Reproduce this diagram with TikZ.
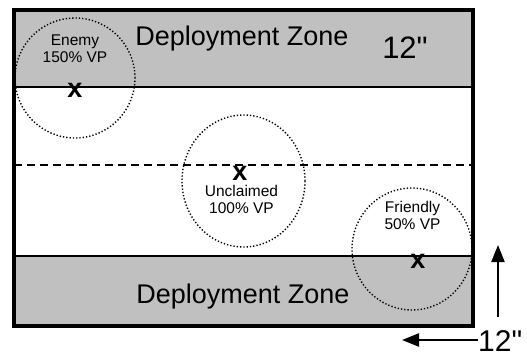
\documentclass[tikz,border=0pt]{standalone}
\usepackage{fontspec}
\setmainfont{Liberation Sans}
\newfontfamily\inchfont{Liberation Sans}
\usepackage{tikz}
\usetikzlibrary{arrows.meta,shapes.geometric}
\definecolor{zonegray}{RGB}{192,192,192}

\begin{document}
\begin{tikzpicture}[
    x=1pt, y=-1pt,
    zone/.style={rectangle, draw=black, fill=zonegray, line width=1.5pt, minimum width=459pt, inner sep=0pt, anchor=north west},
    board/.style={rectangle, draw=black, line width=3.5pt, minimum width=459pt, minimum height=316pt, inner sep=0pt},
    area/.style={ellipse, draw=black, line width=1.4pt, dash pattern=on 1.3pt off 2pt, inner sep=0pt},
    zonelabel/.style={inner sep=0pt, anchor=base, font=\fontsize{27}{30}\selectfont},
    sizelabel/.style={inner sep=0pt, anchor=base, font=\inchfont\fontsize{30}{32}\selectfont},
    vplabel/.style={inner sep=0pt, align=center, font=\fontsize{15.5}{17}\selectfont},
    objx/.style={inner sep=0pt, font=\fontsize{27}{27}\selectfont\bfseries},
    arrow/.style={-{Triangle[length=17pt, width=13pt]}, line width=2pt},
    midline/.style={line width=1.5pt, dash pattern=on 8pt off 5pt}
]
    \useasboundingbox (0,0) rectangle (527,356);

    % Deployment zones
    \node (topzone) at (14,10) [zone, minimum height=76pt] {};
    \node (botzone) at (14,255) [zone, minimum height=71pt] {};

    % Objective areas
    \node (enemyarea) at (75,78) [area, minimum width=120pt, minimum height=120pt] {};
    \node (midarea) at (243.5,181) [area, minimum width=123pt, minimum height=132pt] {};
    \node (friendarea) at (412,249) [area, minimum width=120pt, minimum height=122pt] {};

    % Table edge and centre line
    \node (table) at (243.5,168) [board] {};
    \draw [midline] (14,165) -- (473,165);

    % Zone labels
    \node (toptext) at (242,45) [zonelabel] {Deployment Zone};
    \node (bottext) at (243,303) [zonelabel] {Deployment Zone};
    \node (depth) at (405,58) [sizelabel, font=\inchfont\fontsize{31}{33}\selectfont] {12"};

    % Objectives
    \node (enemyx) at (75,90) [objx] {x};
    \node (enemytext) at (75,49) [vplabel] {Enemy\\150\% VP};
    \node (midx) at (240,173) [objx] {x};
    \node (midtext) at (241.5,199) [vplabel] {Unclaimed\\100\% VP};
    \node (friendx) at (418,261) [objx] {x};
    \node (friendtext) at (412.5,215.5) [vplabel] {Friendly\\50\% VP};

    % Scale arrows
    \coordinate (upfrom) at (498,317);
    \coordinate (upto) at (498,245);
    \draw [arrow] (upfrom) -- (upto);
    \node (width) at (478,351) [sizelabel, anchor=base west] {12"};
    \coordinate (leftto) at (402,340);
    \draw [arrow] (width.west |- leftto) -- (leftto);

\end{tikzpicture}
\end{document}
